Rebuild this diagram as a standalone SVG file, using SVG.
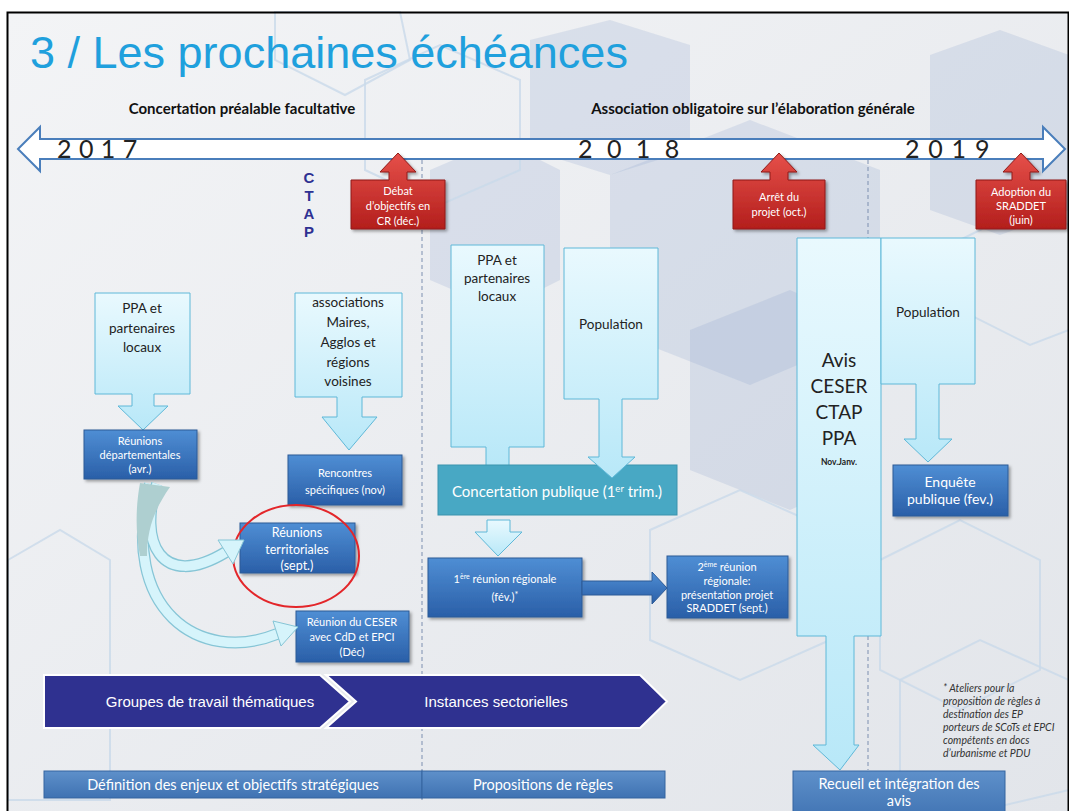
<svg xmlns="http://www.w3.org/2000/svg" width="1069" height="811" viewBox="0 0 1069 811">
<defs>
<linearGradient id="gBg" x1="0" y1="0" x2="1" y2="1"><stop offset="0" stop-color="#f3f4f6"/><stop offset="1" stop-color="#e2e5ea"/></linearGradient>
<linearGradient id="gLight" x1="0" y1="0" x2="0" y2="1"><stop offset="0" stop-color="#e9f9fe"/><stop offset="1" stop-color="#b8e8f8"/></linearGradient>
<linearGradient id="gBlue" x1="0" y1="0" x2="0" y2="1"><stop offset="0" stop-color="#4f8ed4"/><stop offset="1" stop-color="#2a5fa8"/></linearGradient>
<linearGradient id="gRed" x1="0" y1="0" x2="0" y2="1"><stop offset="0" stop-color="#e6504a"/><stop offset="1" stop-color="#b31e1c"/></linearGradient>
<linearGradient id="gBar" x1="0" y1="0" x2="0" y2="1"><stop offset="0" stop-color="#5e90ca"/><stop offset="1" stop-color="#3f72b2"/></linearGradient>
<filter id="sh" x="-10%" y="-10%" width="130%" height="130%"><feDropShadow dx="2" dy="2" stdDeviation="1.5" flood-color="#000" flood-opacity="0.35"/></filter>
<style>
.lt{fill:url(#gLight);stroke:#5fb8d8;stroke-width:1}
.bl{fill:url(#gBlue);stroke:#2c5a96;stroke-width:1;filter:url(#sh)}
.rd{fill:url(#gRed);stroke:#8e1a18;stroke-width:1;filter:url(#sh)}
.bar{fill:url(#gBar);stroke:#34649f;stroke-width:1}
.t{font-family:Lato,"Liberation Sans",sans-serif;text-anchor:middle}
.dk{fill:#222}
.wh{fill:#fff}
.s11{font-size:11px}
.s13{font-size:13.5px}
.dash{stroke:#7d8fb0;stroke-width:1;stroke-dasharray:4 3;fill:none}
.hex{fill:none;stroke:#c9d9ea;stroke-width:2;opacity:0.8}
.blk{fill:#8ea3cf;opacity:0.22}
</style>
</defs>

<g id="background">
<rect x="0" y="0" width="1069" height="811" fill="#ffffff"/>
<rect x="7" y="12" width="1062" height="800" fill="url(#gBg)"/>
<polygon class="blk" points="530,40 610,20 690,45 690,150 610,175 530,150"/>
<polygon class="blk" points="610,175 750,120 880,170 880,330 750,385 610,330"/>
<polygon class="blk" points="690,330 790,290 880,330 880,470 790,510 690,470"/>
<polygon class="blk" points="430,170 500,140 560,170 560,280 500,310 430,280" opacity="0.15"/>
<polygon class="blk" points="930,55 1000,30 1069,55 1069,210 1000,235 930,210" opacity="0.15"/>
<polygon class="hex" points="275,12 400,12 410,60 345,95 275,60"/>
<polygon class="hex" points="365,80 440,45 520,80 520,170 440,205 365,170"/>
<polygon class="hex" points="960,240 1030,205 1069,225 1069,330 1030,345 960,310"/>
<polygon class="hex" points="650,530 740,490 830,530 830,640 740,680 650,640"/>
<polygon class="hex" points="880,560 960,520 1040,560 1040,670 960,710 880,670"/>
<polygon class="hex" points="900,680 980,640 1069,680 1069,790 980,811 900,780"/>
<polygon class="hex" points="8,560 60,530 110,560 110,800 8,800"/>
<rect x="7.5" y="12.5" width="1061" height="810" fill="none" stroke="#000" stroke-width="2"/>
</g>

<g id="title">
<text x="30" y="68" font-family="'Liberation Sans',Arial,sans-serif" font-size="45" fill="#1fa0dd">3 / Les prochaines échéances</text>
<text class="t" x="242" y="114" font-size="15" font-weight="bold" fill="#111">Concertation préalable facultative</text>
<text class="t" x="753" y="114" font-size="15" font-weight="bold" fill="#111">Association obligatoire sur l’élaboration générale</text>
</g>

<g id="dashed-lines">
<line class="dash" x1="422" y1="160" x2="422" y2="800"/>
<line class="dash" x1="868" y1="160" x2="868" y2="770"/>
</g>

<g id="timeline">
<polygon points="18,149 40,127 40,139 1043,139 1043,127 1065,149 1043,171 1043,159 40,159 40,171" fill="#fff" stroke="#4a7ebb" stroke-width="2"/>
<text x="57" y="158" font-family="Lato,sans-serif" font-size="25" letter-spacing="0.5" fill="#222">2 0 1 7</text>
<text x="578" y="158" font-family="Lato,sans-serif" font-size="25" letter-spacing="4" fill="#222">2 0 1 8</text>
<text x="905" y="158" font-family="Lato,sans-serif" font-size="25" letter-spacing="1.2" fill="#222">2 0 1 9</text>
</g>

<g id="ctap">
<text x="309" y="183" font-family="'Liberation Sans',Arial,sans-serif" font-size="15" font-weight="bold" fill="#2e3192" text-anchor="middle">C</text>
<text x="309" y="201" font-family="'Liberation Sans',Arial,sans-serif" font-size="15" font-weight="bold" fill="#2e3192" text-anchor="middle">T</text>
<text x="309" y="219" font-family="'Liberation Sans',Arial,sans-serif" font-size="15" font-weight="bold" fill="#2e3192" text-anchor="middle">A</text>
<text x="309" y="237" font-family="'Liberation Sans',Arial,sans-serif" font-size="15" font-weight="bold" fill="#2e3192" text-anchor="middle">P</text>
</g>

<g id="debat">
<path class="rd" d="M351,180 H389 V172 H380 L398,153 L416,172 H407 V180 H445 V229 H351 Z"/>
<text class="t wh s11" x="398" y="195">Débat</text>
<text class="t wh s11" x="398" y="210">d’objectifs en</text>
<text class="t wh s11" x="398" y="225">CR (déc.)</text>
</g>
<g id="arret">
<path class="rd" d="M733,180 H770 V172 H761 L779,153 L797,172 H788 V180 H825 V229 H733 Z"/>
<text class="t wh s11" x="779" y="201">Arrêt du</text>
<text class="t wh s11" x="779" y="216">projet (oct.)</text>
</g>
<g id="adoption">
<path class="rd" d="M976,180 H1012 V172 H1003 L1021,153 L1039,172 H1030 V180 H1066 V229 H976 Z"/>
<text class="t wh s11" x="1021" y="196">Adoption du</text>
<text class="t wh s11" x="1021" y="210">SRADDET</text>
<text class="t wh s11" x="1021" y="224">(juin)</text>
</g>

<g id="ppa1">
<path class="lt" d="M95,293 H190 V394 H154 V406 H168 L143,430 L118,406 H132 V394 H95 Z"/>
<text class="t dk s13" x="142" y="313">PPA et</text>
<text class="t dk s13" x="142" y="333">partenaires</text>
<text class="t dk s13" x="142" y="352">locaux</text>
</g>
<g id="assoc">
<path class="lt" d="M295,293 H402 V397 H362 V417 H377 L349,450 L322,417 H337 V397 H295 Z"/>
<text class="t dk s13" x="348" y="307">associations</text>
<text class="t dk s13" x="348" y="327">Maires,</text>
<text class="t dk s13" x="348" y="347">Agglos et</text>
<text class="t dk s13" x="348" y="367">régions</text>
<text class="t dk s13" x="348" y="386">voisines</text>
</g>

<g id="reunions-dep">
<rect class="bl" x="84" y="430" width="113" height="49"/>
<text class="t wh s11" x="140" y="445">Réunions</text>
<text class="t wh s11" x="140" y="459">départementales</text>
<text class="t wh s11" x="140" y="473">(avr.)</text>
</g>
<g id="rencontres">
<rect class="bl" x="288" y="455" width="114" height="50"/>
<text class="t wh s11" x="345" y="477">Rencontres</text>
<text class="t wh s11" x="345" y="494">spécifiques (nov)</text>
</g>
<g id="reunions-terr">
<rect class="bl" x="240" y="523" width="115" height="50"/>
<text class="t wh" x="297" y="537" font-size="12.5">Réunions</text>
<text class="t wh" x="297" y="554" font-size="12.5">territoriales</text>
<text class="t wh" x="297" y="570" font-size="12.5">(sept.)</text>
<ellipse cx="296" cy="556" rx="63" ry="51" fill="none" stroke="#e3262a" stroke-width="2"/>
</g>
<g id="ceser">
<rect class="bl" x="296" y="611" width="113" height="51"/>
<text class="t wh s11" x="352" y="626">Réunion du CESER</text>
<text class="t wh s11" x="352" y="641">avec CdD et EPCI</text>
<text class="t wh s11" x="352" y="656">(Déc)</text>
</g>

<g id="ppa2">
<path class="lt" d="M451,245 H544 V447 H509 V466 H486 V447 H451 Z"/>
<text class="t dk s13" x="497" y="265">PPA et</text>
<text class="t dk s13" x="497" y="283">partenaires</text>
<text class="t dk s13" x="497" y="301">locaux</text>
</g>
<g id="concertation">
<rect x="438" y="465" width="239" height="50" fill="#48a8c4" stroke="#3b93ad" stroke-width="1"/>
<text class="t wh" x="557" y="497" font-size="15">Concertation publique (1<tspan font-size="9.5" dy="-5">er</tspan><tspan dy="5"> trim.)</tspan></text>
</g>
<g id="population1">
<path class="lt" d="M564,248 H658 V399 H622 V457 H635 L612,478 L588,457 H599 V399 H564 Z"/>
<text class="t dk s13" x="611" y="329">Population</text>
</g>

<g id="reunion1">
<rect class="bl" x="428" y="558" width="154" height="59"/>
<text class="t wh s11" x="505" y="583">1<tspan font-size="7" dy="-4">ère</tspan><tspan dy="4"> réunion régionale</tspan></text>
<text class="t wh s11" x="505" y="601">(fév.)<tspan font-size="9" dy="-3">*</tspan></text>
</g>
<g id="reunion2">
<rect class="bl" x="667" y="556" width="121" height="62"/>
<text class="t wh s11" x="727" y="571">2<tspan font-size="7" dy="-4">ème</tspan><tspan dy="4"> réunion</tspan></text>
<text class="t wh s11" x="727" y="585">régionale:</text>
<text class="t wh s11" x="727" y="599">présentation projet</text>
<text class="t wh s11" x="727" y="612">SRADDET (sept.)</text>
</g>

<g id="avis">
<path class="lt" d="M797,238 H881 V636 H854 V745 H859 L840,770 L813,745 H826 V636 H797 Z"/>
<text class="t dk" x="839" y="367" font-size="19">Avis</text>
<text class="t dk" x="839" y="393" font-size="19">CESER</text>
<text class="t dk" x="839" y="419" font-size="19">CTAP</text>
<text class="t dk" x="839" y="445" font-size="19">PPA</text>
<text class="t dk" x="839" y="465" font-size="8.5" font-weight="bold">Nov.Janv.</text>
</g>
<g id="population2">
<path class="lt" d="M881,238 H975 V384 H939 V439 H952 L928,462 L904,439 H916 V384 H881 Z"/>
<text class="t dk s13" x="928" y="317">Population</text>
</g>
<g id="enquete">
<rect class="bl" x="893" y="465" width="115" height="51"/>
<text class="t wh" x="950" y="487" font-size="14">Enquête</text>
<text class="t wh" x="950" y="504" font-size="14">publique (fev.)</text>
</g>

<g id="chevrons">
<polygon points="44,675 320,675 350,701.5 320,728 44,728" fill="#2f3190" stroke="#fff" stroke-width="2"/>
<polygon points="326,675 640,675 667,701.5 640,728 326,728 356,701.5" fill="#2f3190" stroke="#fff" stroke-width="2"/>
<text x="210" y="707" font-family="'Liberation Sans',Arial,sans-serif" font-size="15" fill="#fff" text-anchor="middle">Groupes de travail thématiques</text>
<text x="496" y="707" font-family="'Liberation Sans',Arial,sans-serif" font-size="15" fill="#fff" text-anchor="middle">Instances sectorielles</text>
</g>
<g id="bars">
<rect class="bar" x="44" y="771" width="378" height="27"/>
<rect class="bar" x="422" y="771" width="243" height="27"/>
<text class="t wh" x="233" y="790" font-size="14.5">Définition des enjeux et objectifs stratégiques</text>
<text class="t wh" x="543" y="790" font-size="14.5">Propositions de règles</text>
</g>
<g id="recueil">
<rect class="bar" x="793" y="771" width="212" height="50"/>
<text class="t wh" x="899" y="789" font-size="14.5">Recueil et intégration des</text>
<text class="t wh" x="899" y="806" font-size="14.5">avis</text>
</g>

<g id="footnote" font-family="Lato,'Liberation Sans',sans-serif" font-size="10.5" font-style="italic" fill="#333">
<text x="943" y="692">* Ateliers pour la</text>
<text x="943" y="705">proposition de règles à</text>
<text x="943" y="718">destination des EP</text>
<text x="943" y="731">porteurs de SCoTs et EPCI</text>
<text x="943" y="744">compétents en docs</text>
<text x="943" y="757">d’urbanisme et PDU</text>
</g>

<g id="connectors">
<path d="M150,484 C118,610 200,665 277,634" fill="none" stroke="#86c5d6" stroke-width="12"/>
<path d="M150,484 C118,610 200,665 277,634" fill="none" stroke="#d6f4fb" stroke-width="9.5"/>
<polygon points="298,627 281,646 273,621" fill="#d6f4fb" stroke="#86c5d6" stroke-width="1"/>
<path d="M157,484 C138,540 160,592 226,552" fill="none" stroke="#86c5d6" stroke-width="12"/>
<path d="M157,484 C138,540 160,592 226,552" fill="none" stroke="#d6f4fb" stroke-width="9.5"/>
<polygon points="244,540 233,564 218,540" fill="#d6f4fb" stroke="#86c5d6" stroke-width="1"/>
<path d="M140,483 L170,487 C154,510 147,530 147,556 L140,556 C135,530 136,505 140,483 Z" fill="#aecfd0"/>
<path class="lt" d="M487,520 H510 V532 H522 L498,556 L475,532 H487 Z"/>
<path d="M582,581 H652 V572 L667,588 L652,604 V595 H582 Z" fill="url(#gBlue)" stroke="#2c5a96" stroke-width="1"/>
</g>
</svg>
